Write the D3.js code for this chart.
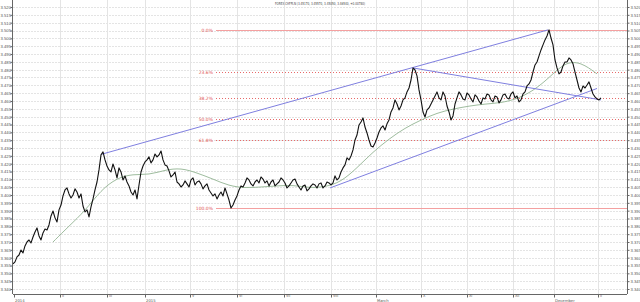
<!DOCTYPE html>
<html>
<head>
<meta charset="utf-8">
<script src="https://cdn.jsdelivr.net/npm/d3@7"></script>
<style>
  body { margin: 0; background: #fff; }
  svg { display: block; font-family: "DejaVu Sans", sans-serif; }
</style>
</head>
<body>
<div id="chart"></div>
<script>
// Title
var title = "FOREX CHFPLN (3.45170, 3.45570, 3.45050, 3.46540, +0.00780)";

// Price (close), one value per step
var price = [
  3.3560, 3.3573, 3.3605, 3.3617, 3.3649, 3.3630, 3.3675, 3.3700, 3.3713, 3.3694,
  3.3732, 3.3764, 3.3790, 3.3739, 3.3713, 3.3758, 3.3783, 3.3777, 3.3809, 3.3866,
  3.3898, 3.3854, 3.3828, 3.3905, 3.3936, 3.3994, 3.4032, 3.4045, 3.4007, 3.3981,
  3.4000, 3.4039, 3.4019, 3.3981, 3.4007, 3.3930, 3.3892, 3.3905, 3.3860, 3.3924,
  3.3975, 3.4032, 3.4083, 3.4160, 3.4256, 3.4275, 3.4224, 3.4185, 3.4160, 3.4147,
  3.4198, 3.4160, 3.4109, 3.4173, 3.4147, 3.4096, 3.4122, 3.4083, 3.4058, 3.4019,
  3.4000, 3.4032, 3.3975, 3.4064, 3.4147, 3.4185, 3.4211, 3.4224, 3.4243, 3.4205,
  3.4224, 3.4262, 3.4243, 3.4256, 3.4281, 3.4224, 3.4192, 3.4185, 3.4154, 3.4115,
  3.4128, 3.4147, 3.4083, 3.4071, 3.4051, 3.4064, 3.4090, 3.4071, 3.4051, 3.4096,
  3.4109, 3.4064, 3.4083, 3.4090,
  3.4071, 3.4039, 3.4058, 3.4071, 3.4032, 3.4013, 3.3994, 3.4007, 3.3975, 3.4000,
  3.4019, 3.3994, 3.4045, 3.4007, 3.3968, 3.3917, 3.3936, 3.3968, 3.3994, 3.4032,
  3.4058, 3.4051, 3.4077, 3.4109, 3.4096, 3.4071, 3.4058, 3.4083, 3.4096, 3.4077,
  3.4115, 3.4102, 3.4077, 3.4090, 3.4058, 3.4083, 3.4096, 3.4058, 3.4071, 3.4083,
  3.4109, 3.4096, 3.4077, 3.4045, 3.4058, 3.4077, 3.4096, 3.4102, 3.4071, 3.4051,
  3.4032, 3.4058, 3.4064, 3.4026, 3.4039, 3.4058, 3.4071, 3.4064, 3.4045, 3.4071,
  3.4077, 3.4045, 3.4058, 3.4083, 3.4077, 3.4064,
  3.4077, 3.4122, 3.4096, 3.4109, 3.4147, 3.4173, 3.4192, 3.4237, 3.4224, 3.4249,
  3.4288, 3.4351, 3.4383, 3.4447, 3.4466, 3.4492, 3.4434, 3.4396, 3.4351, 3.4313,
  3.4307, 3.4332, 3.4364, 3.4402, 3.4428, 3.4441, 3.4415, 3.4454, 3.4479, 3.4530,
  3.4556, 3.4607, 3.4581, 3.4543, 3.4568, 3.4607, 3.4620, 3.4658, 3.4683, 3.4734,
  3.4811, 3.4798, 3.4760, 3.4671, 3.4607, 3.4530, 3.4498, 3.4543, 3.4556, 3.4581,
  3.4607, 3.4632, 3.4658, 3.4620, 3.4607, 3.4658, 3.4632, 3.4568, 3.4530, 3.4479,
  3.4505, 3.4581, 3.4620, 3.4658, 3.4639, 3.4613, 3.4607, 3.4651, 3.4639, 3.4613,
  3.4594, 3.4639, 3.4626, 3.4600, 3.4581, 3.4620, 3.4613, 3.4645, 3.4639, 3.4607,
  3.4594, 3.4632, 3.4626, 3.4588, 3.4607, 3.4639, 3.4645, 3.4620, 3.4613, 3.4645,
  3.4658, 3.4620, 3.4632, 3.4594, 3.4607, 3.4645, 3.4658, 3.4696, 3.4709, 3.4734,
  3.4785, 3.4830, 3.4849, 3.4888, 3.4926, 3.4958, 3.4990, 3.5015, 3.5054, 3.5002,
  3.4958, 3.4862, 3.4811, 3.4773, 3.4785, 3.4824, 3.4849, 3.4849, 3.4875, 3.4862,
  3.4837, 3.4785, 3.4734, 3.4683, 3.4658, 3.4696, 3.4683, 3.4702, 3.4722, 3.4683,
  3.4645, 3.4626, 3.4613, 3.4607, 3.4620
];

// Moving average, read every 8 steps starting at step 20
var maStart = 20, maStep = 8;
var ma = [
  3.3700, 3.3802, 3.3898, 3.4032, 3.4109, 3.4134, 3.4128, 3.4160, 3.4173, 3.4141,
  3.4102, 3.4058, 3.4045, 3.4051, 3.4058, 3.4064, 3.4045, 3.4051, 3.4083, 3.4173,
  3.4275, 3.4358, 3.4428, 3.4479, 3.4524, 3.4549, 3.4568, 3.4581, 3.4588, 3.4613,
  3.4664, 3.4747, 3.4849, 3.4849, 3.4773
];

// Trend lines [step, value]
var upperLine = [[44.5, 3.4261], [267.5, 3.5054]];
var lowerLine = [[158.5, 3.4045], [292, 3.4680]];
var downLine  = [[200, 3.4811], [294, 3.4607]];

// Fibonacci retracement
var fibHigh = 3.5054, fibLow = 3.3916, fibStart = 101.5;
var fibLevels = [0, 0.236, 0.382, 0.5, 0.618, 1];
var fibLabels = ["0.0%", "23.6%", "38.2%", "50.0%", "61.8%", "100.0%"];

// Axis ticks
var yTicks = [3.340, 3.345, 3.350, 3.355, 3.360, 3.365, 3.370, 3.375, 3.380, 3.385,
  3.390, 3.395, 3.400, 3.405, 3.410, 3.415, 3.420, 3.425, 3.430, 3.435, 3.440,
  3.445, 3.450, 3.455, 3.460, 3.465, 3.470, 3.475, 3.480, 3.485, 3.490, 3.495,
  3.500, 3.505, 3.510, 3.515, 3.520];
var xTicks = [0.5, 23.5, 47, 66, 88.5, 112, 135.5, 159, 181.5, 204, 227, 250, 270.5, 292.5];
var xTickLabels = ["", "II", "III", "", "V", "VI", "VII", "VIII", "", "X", "XI", "XII", "", "II"];
var xPeriods = [[0.5, "2014"], [66, "2015"], [181.5, "March"], [270.5, "December"]];

var W = 640, H = 302;
var plotL = 13, plotR = 627, plotT = 0, plotB = 294;

var svg = d3.select("#chart").append("svg")
  .attr("width", W).attr("height", H);

var x = d3.scaleLinear().domain([0, 294]).range([13, 601]);
var y = d3.scaleLinear().domain([3.340, 3.520]).range([289, 7]);

// grid
svg.append("g").selectAll("line").data(yTicks).enter().append("line")
  .attr("x1", plotL).attr("x2", plotR)
  .attr("y1", function(d) { return Math.round(y(d)) + 0.5; })
  .attr("y2", function(d) { return Math.round(y(d)) + 0.5; })
  .attr("stroke", "#e4e4e4").attr("stroke-dasharray", "2,1");

svg.append("g").selectAll("line").data(xTicks.slice(1)).enter().append("line")
  .attr("x1", function(d) { return Math.round(x(d)) + 0.5; })
  .attr("x2", function(d) { return Math.round(x(d)) + 0.5; })
  .attr("y1", plotT).attr("y2", plotB)
  .attr("stroke", "#e4e4e4");

// fibonacci
fibLevels.forEach(function(f, i) {
  var v = fibHigh - f * (fibHigh - fibLow);
  var yy = Math.round(y(v)) + 0.5;
  var solid = (f === 0 || f === 1);
  svg.append("line")
    .attr("x1", x(fibStart)).attr("x2", plotR)
    .attr("y1", yy).attr("y2", yy)
    .attr("stroke", solid ? "#f4a0a0" : "#e86a6a")
    .attr("stroke-width", solid ? 1.2 : 1)
    .attr("stroke-dasharray", solid ? null : "1,2");
  svg.append("text")
    .attr("x", x(fibStart) - 3).attr("y", yy + 1.8)
    .attr("text-anchor", "end")
    .attr("font-size", 4.5)
    .attr("fill", "#e05050")
    .text(fibLabels[i]);
});

// moving average
var maLine = d3.line()
  .x(function(d, i) { return x(maStart + i * maStep); })
  .y(function(d) { return y(d); })
  .curve(d3.curveBasis);
svg.append("path").datum(ma)
  .attr("d", maLine)
  .attr("fill", "none").attr("stroke", "#93b493").attr("stroke-width", 0.9);

// trend lines
[upperLine, lowerLine, downLine].forEach(function(l) {
  svg.append("line")
    .attr("x1", x(l[0][0])).attr("y1", y(l[0][1]))
    .attr("x2", x(l[1][0])).attr("y2", y(l[1][1]))
    .attr("stroke", "#7f7fe0").attr("stroke-width", 1);
});

// price
var priceLine = d3.line()
  .x(function(d, i) { return x(i); })
  .y(function(d) { return y(d); });
svg.append("path").datum(price)
  .attr("d", priceLine)
  .attr("fill", "none").attr("stroke", "#111").attr("stroke-width", 1.1)
  .attr("stroke-linejoin", "round");

// axes
var axL = svg.append("g").attr("transform", "translate(" + (plotL - 0.5) + ",0)")
  .call(d3.axisLeft(y).tickValues(yTicks).tickSize(2).tickFormat(d3.format(".3f")));
var axR = svg.append("g").attr("transform", "translate(" + (plotR + 0.5) + ",0)")
  .call(d3.axisRight(y).tickValues(yTicks).tickSize(2).tickFormat(d3.format(".3f")));
[axL, axR].forEach(function(a) {
  a.select(".domain").attr("stroke", "#666").attr("d", "M0," + plotT + "V" + plotB);
  a.selectAll(".tick line").attr("stroke", "#666");
  a.selectAll(".tick text").attr("font-size", 4.2).attr("fill", "#555")
    .attr("font-family", "Liberation Sans, sans-serif");
});
axL.selectAll(".tick text").attr("x", -1.5);
axR.selectAll(".tick text").attr("x", 3);

var axB = svg.append("g").attr("transform", "translate(0," + (plotB + 0.5) + ")")
  .call(d3.axisBottom(x).tickValues(xTicks).tickSize(3).tickFormat(function(d, i) { return xTickLabels[i]; }));
axB.select(".domain").attr("stroke", "#666").attr("d", "M" + plotL + ",0H" + plotR);
axB.selectAll(".tick line").attr("stroke", "#666");
axB.selectAll(".tick text").attr("font-size", 3.5).attr("fill", "#555")
  .attr("x", 1.5).attr("y", -0.5).attr("text-anchor", "start");

svg.append("g").selectAll("text").data(xPeriods).enter().append("text")
  .attr("x", function(d) { return x(d[0]) + 1; })
  .attr("y", 301.5)
  .attr("font-size", 3.8)
  .attr("fill", "#555")
  .text(function(d) { return d[1]; });

svg.append("text")
  .attr("x", 275).attr("y", 5)
  .attr("font-size", 4)
  .attr("fill", "#444")
  .attr("textLength", 90)
  .attr("lengthAdjust", "spacingAndGlyphs")
  .text(title);
</script>
</body>
</html>
